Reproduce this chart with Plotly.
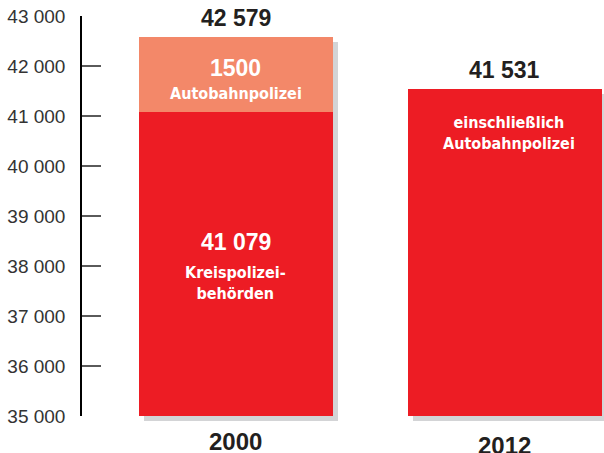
import plotly.graph_objects as go

years = ["2000", "2012"]
kreis = [41079, 41531]          # 2012: einschließlich Autobahnpolizei
autobahn = [1500, 0]
totals = [k + a for k, a in zip(kreis, autobahn)]
y_ticks = [35000, 36000, 37000, 38000, 39000, 40000, 41000, 42000, 43000]
y_range = [35000, 43000]

RED = "#ED1C24"
SALMON = "#F38869"
SHADOW = "#D3D4D6"
DARK = "#231F20"
NUM_FONT = "Liberation Sans, Arial, sans-serif"
WORD_FONT = "Liberation Sans Narrow, DejaVu Sans Condensed, sans-serif"

def fmt(v):
    return f"{v:,}".replace(",", " ")

W, H = 604, 453
ML, MR, MT, MB = 82, 0, 16, 32
pw = W - ML - MR
ph = H - MT - MB
xr = [-0.572, 1.368]
upx = (xr[1] - xr[0]) / pw
off = 5
bw = 0.721

fig = go.Figure()
# shadow
fig.add_trace(go.Bar(x=years, y=totals, width=bw, marker=dict(color=SHADOW, line_width=0),
                     xaxis="x", yaxis="y", hoverinfo="skip", showlegend=False))
# main bars
fig.add_trace(go.Bar(x=years, y=kreis, width=bw, marker=dict(color=RED, line_width=0),
                     xaxis="x2", yaxis="y2", showlegend=False))
fig.add_trace(go.Bar(x=years, y=autobahn, width=bw, marker=dict(color=SALMON, line_width=0),
                     xaxis="x2", yaxis="y2", showlegend=False))

i0, i1 = 0, 1  # category indices of years[0], years[1]
ann = []
for i, t in enumerate(totals):
    ann.append(dict(x=i, y=t, xref="x2", yref="y2", text=f"<b>{fmt(t)}</b>", showarrow=False,
                    yanchor="middle", yshift=19, font=dict(family=NUM_FONT, size=23, color=DARK)))
# 2000 autobahn segment
mid_a = kreis[0] + autobahn[0] / 2
ann.append(dict(x=i0, y=mid_a, xref="x2", yref="y2", text=f"<b>{autobahn[0]}</b>",
                showarrow=False, yshift=7, font=dict(family=NUM_FONT, size=23, color="white")))
ann.append(dict(x=i0, y=mid_a, xref="x2", yref="y2", text="<b>Autobahnpolizei</b>",
                showarrow=False, yshift=-19, font=dict(family=WORD_FONT, size=16, color="white")))
# 2000 kreis segment
mid_k = (y_range[0] + kreis[0]) / 2
ann.append(dict(x=i0, y=mid_k, xref="x2", yref="y2", text=f"<b>{fmt(kreis[0])}</b>",
                showarrow=False, yshift=22, font=dict(family=NUM_FONT, size=23, color="white")))
ann.append(dict(x=i0, y=mid_k, xref="x2", yref="y2", text="<b>Kreispolizei-<br>behörden</b>",
                showarrow=False, yshift=-19, font=dict(family=WORD_FONT, size=16, color="white")))
# 2012 note
ann.append(dict(x=i1, y=totals[1], xref="x2", yref="y2",
                text="<b>einschließlich<br>Autobahnpolizei</b>", showarrow=False, yanchor="middle",
                yshift=-44, xshift=4, font=dict(family=WORD_FONT, size=16, color="white")))
# year labels
for i, (yr, ys) in enumerate(zip(years, [-25, -29])):
    ann.append(dict(x=i, y=y_range[0], xref="x2", yref="y2", text=f"<b>{yr}</b>", showarrow=False,
                    yanchor="middle", yshift=ys, font=dict(family=NUM_FONT, size=24, color=DARK)))

fig.update_layout(
    width=W, height=H, margin=dict(l=ML, r=MR, t=MT, b=MB, autoexpand=False),
    barmode="stack", bargap=0, separators=", ",
    paper_bgcolor="white", plot_bgcolor="rgba(0,0,0,0)",
    annotations=ann,
    xaxis=dict(type="category", domain=[0, 1], range=[xr[0] - off * upx, xr[1] - off * upx],
               visible=False, anchor="y", automargin=False),
    yaxis=dict(domain=[0, 1 - off / ph], range=y_range, visible=False, anchor="x",
               automargin=False),
    xaxis2=dict(type="category", domain=[0, 1], range=xr, visible=False, anchor="y2",
                automargin=False),
    yaxis2=dict(domain=[off / ph, 1], range=y_range, anchor="x2", tickvals=y_ticks,
                tickformat=",d", showline=True, linecolor="black", linewidth=1.5,
                ticks="inside", ticklen=19, tickwidth=2, tickcolor="#5a5a5a",
                showgrid=False, zeroline=False, ticklabelstandoff=11, automargin=False,
                tickfont=dict(family=NUM_FONT, size=19, color="#333333")),
)

fig.write_html("out.html", config={"displayModeBar": False},
               post_script="document.body.style.margin='0';document.body.style.overflow='hidden';")
